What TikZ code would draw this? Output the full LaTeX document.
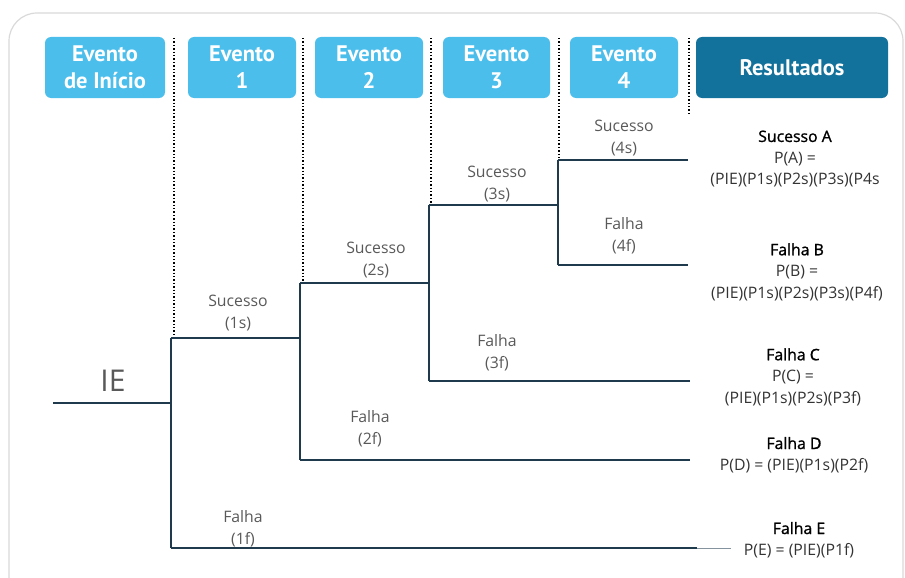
\documentclass[tikz,border=0pt]{standalone}
\usepackage{fontspec}
\setmainfont{Open Sans}
\newfontfamily\headfont{PT Sans}
\newfontfamily\semifont[FakeBold=1.2]{Open Sans}
\definecolor{evblue}{HTML}{4BBEEC}
\definecolor{resblue}{HTML}{13729B}
\definecolor{treeline}{HTML}{1F3A4D}
\definecolor{lblgray}{HTML}{595959}
\definecolor{frmgray}{HTML}{D9D9D9}
\tikzset{
  evbox/.style={fill=evblue, rounded corners=6pt, minimum height=61pt, text=white,
    font=\headfont\bfseries\fontsize{22.5}{27}\selectfont, align=center, inner sep=0pt},
  branch/.style={draw=treeline, line width=1.3pt},
  sep/.style={draw=black, dotted, line width=1.4pt},
  lbl/.style={text=lblgray, font=\fontsize{15.8}{22}\selectfont, align=center, inner sep=0pt},
  res/.style={text=black!80, font=\fontsize{15.8}{21.5}\selectfont, align=center, inner sep=0pt}
}
\newcommand{\restitle}[1]{{\color{black}\semifont #1}}
\begin{document}
\begin{tikzpicture}[x=1pt,y=-1pt]
\useasboundingbox (0,0) rectangle (905,578);
\clip (0,0) rectangle (905,578);
\draw[frmgray, line width=1.2pt, rounded corners=28pt] (9,13) rectangle (903,610);

% cabecalho
\node[evbox, minimum width=120pt] (ev0) at (105,67.5) {Evento\\de Início};
\node[evbox, minimum width=108pt] (ev1) at (242,67.5) {Evento\\1};
\node[evbox, minimum width=108pt] (ev2) at (369,67.5) {Evento\\2};
\node[evbox, minimum width=107pt] (ev3) at (496.5,67.5) {Evento\\3};
\node[evbox, minimum width=108pt] (ev4) at (624,67.5) {Evento\\4};
\node[evbox, fill=resblue, minimum width=192pt] (res) at (792,67.5) {Resultados};

% pontos da arvore
\coordinate (ie) at (53,403);
\coordinate (j1) at (171,403);
\coordinate (j1t) at (171,338);
\coordinate (j1b) at (171,548);
\coordinate (j2t) at (300,338);
\coordinate (j2s) at (300,283);
\coordinate (j2b) at (300,460);
\coordinate (j3t) at (429,283);
\coordinate (j3s) at (429,205);
\coordinate (j3b) at (429,381);
\coordinate (j4t) at (558,205);
\coordinate (j4s) at (558,160);
\coordinate (j4b) at (558,265);
\coordinate (eA) at (688,160);
\coordinate (eB) at (688,265);
\coordinate (eC) at (690,381);
\coordinate (eD) at (690,460);
\coordinate (eE) at (697,548);
\coordinate (eE2) at (731,548);

% separadores
\draw[sep] (174,38) -- (174,338);
\draw[sep] (303,38) -- (303,283);
\draw[sep] (431,38) -- (431,205);
\draw[sep] (559,38) -- (559,160);
\draw[sep] (689,38) -- (689,115);

% ramos
\draw[branch] (ie) -- (j1);
\draw[branch] (j1t) -- (j1b);
\draw[branch] (j1t) -- (j2t);
\draw[branch] (j1b) -- (eE);
\draw[treeline!55, line width=1pt] (eE) -- (eE2);
\draw[branch] (j2s) -- (j2b);
\draw[branch] (j2s) -- (j3t);
\draw[branch] (j2b) -- (eD);
\draw[branch] (j3s) -- (j3b);
\draw[branch] (j3s) -- (j4t);
\draw[branch] (j3b) -- (eC);
\draw[branch] (j4s) -- (j4b);
\draw[branch] (j4s) -- (eA);
\draw[branch] (j4b) -- (eB);

% rotulos
\node[lbl, font=\fontsize{30}{30}\selectfont] (ielbl) at (113,381) {IE};
\node[lbl] (s1) at (238,313.5) {Sucesso\\(1s)};
\node[lbl] (f1) at (243,528.5) {Falha\\(1f)};
\node[lbl] (s2) at (376,260) {Sucesso\\(2s)};
\node[lbl] (f2) at (370,429) {Falha\\(2f)};
\node[lbl] (s3) at (497,184) {Sucesso\\(3s)};
\node[lbl] (f3) at (497,353) {Falha\\(3f)};
\node[lbl] (s4) at (624,138) {Sucesso\\(4s)};
\node[lbl] (f4) at (624,236) {Falha\\(4f)};

% resultados
\node[res] (rA) at (795,159) {\restitle{Sucesso A}\\P(A) =\\(PIE)(P1s)(P2s)(P3s)(P4s};
\node[res] (rB) at (797,272) {\restitle{Falha B}\\P(B) =\\(PIE)(P1s)(P2s)(P3s)(P4f)};
\node[res] (rC) at (793,377) {\restitle{Falha C}\\P(C) =\\(PIE)(P1s)(P2s)(P3f)};
\node[res] (rD) at (794,455) {\restitle{Falha D}\\P(D) = (PIE)(P1s)(P2f)};
\node[res] (rE) at (799,540) {\restitle{Falha E}\\P(E) = (PIE)(P1f)};
\end{tikzpicture}
\end{document}
